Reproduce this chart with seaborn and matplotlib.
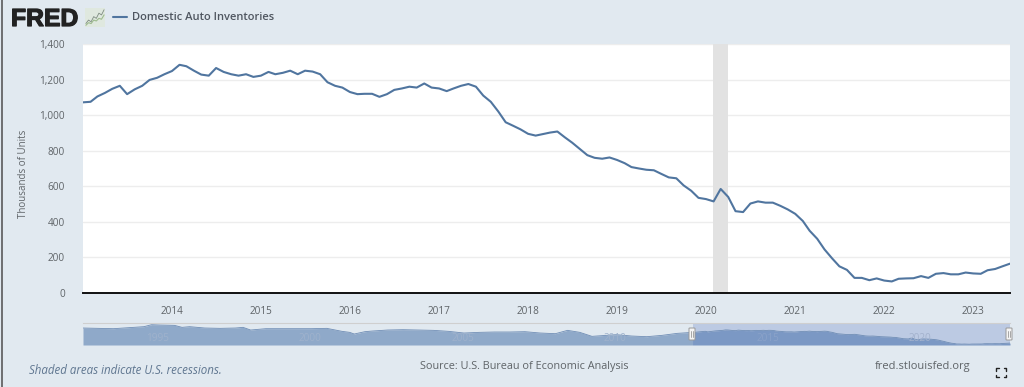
import matplotlib
matplotlib.use("Agg")
import matplotlib.pyplot as plt
import matplotlib.patheffects as pe
from matplotlib.patches import FancyBboxPatch
from matplotlib.lines import Line2D
import numpy as np
import pandas as pd
import seaborn as sns

# ---- data -------------------------------------------------------------
start_month = "2013-01-01"
inventories = [
    1072, 1075, 1105, 1125, 1148, 1165, 1118, 1145, 1165, 1198, 1210, 1230,
    1248, 1283, 1275, 1250, 1228, 1222, 1265, 1243, 1230, 1222, 1230, 1215,
    1222, 1243, 1230, 1238, 1250, 1230, 1250, 1245, 1230, 1185, 1165, 1155,
    1130, 1118, 1120, 1120, 1103, 1118, 1142, 1150, 1160, 1155, 1178, 1155,
    1150, 1135, 1150, 1165, 1175, 1160, 1110, 1075, 1020, 960, 940, 920,
    895, 885, 893, 902, 908, 875, 845, 810, 775, 760, 755, 762,
    748, 730, 708, 700, 693, 690, 670, 650, 645, 605, 575, 535,
    528, 515, 585, 540, 460, 455, 503, 515, 508, 508, 490, 470,
    445, 405, 350, 305, 245, 195, 150, 130, 85, 85, 72, 82,
    70, 65, 80, 82, 83, 95, 85, 108, 112, 105, 105, 115,
    110, 108, 128, 135, 150, 165,
]
history_years = [
    1993, 1993.5, 1994, 1994.5, 1995, 1995.25, 1995.5, 1996, 1996.25, 1996.5,
    1997, 1997.5, 1998, 1998.25, 1998.5, 1999, 1999.5, 2000, 2000.5, 2001,
    2001.5, 2001.75, 2001.9, 2002.25, 2002.5, 2003, 2003.5, 2004, 2004.5, 2005,
    2005.5, 2006, 2006.5, 2007, 2007.5, 2008, 2008.5, 2008.9, 2009.3, 2009.7,
    2010, 2010.5, 2011, 2011.5, 2012, 2012.5,
]
history_values = [
    1443, 1415, 1387, 1472, 1557, 1726, 1698, 1670, 1500, 1557,
    1443, 1415, 1443, 1500, 1274, 1387, 1387, 1387, 1387, 1415,
    1160, 1075, 934, 1132, 1189, 1274, 1302, 1274, 1245, 1160,
    1019, 1075, 1104, 1104, 1132, 1019, 962, 1245, 1075, 736,
    792, 877, 764, 707, 820, 990,
]
y_ticks = [0, 200, 400, 600, 800, 1000, 1200, 1400]
x_years = list(range(2014, 2024))
nav_years = [1995, 2000, 2005, 2010, 2015, 2020]
recession = ("2020-01-28", "2020-03-30")

# ---- colours ----------------------------------------------------------
BG = "#e1e9f0"
LINE = "#50759f"
TXT = "#5f6468"

sns.set_theme(style="white")
plt.rcParams["font.family"] = ["Open Sans", "DejaVu Sans"]

W, H = 1024, 387
fig = plt.figure(figsize=(W / 100, H / 100), dpi=100, facecolor=BG)

def box(x0, y0, x1, y1):
    return [x0 / W, 1 - y1 / H, (x1 - x0) / W, (y1 - y0) / H]

# ---- main chart -------------------------------------------------------
dates = pd.date_range(start_month, periods=len(inventories), freq="MS")
df = pd.DataFrame({"date": dates, "value": inventories})

ax = fig.add_axes(box(83, 44, 1010, 293))
ax.set_facecolor("white")
ax.axvspan(pd.Timestamp(recession[0]), pd.Timestamp(recession[1]),
           color="#e2e2e2", lw=0, zorder=1)
sns.lineplot(data=df, x="date", y="value", ax=ax, color=LINE, lw=1.5, zorder=3,
             errorbar=None)
ax.set_xlim(dates[0], dates[-1])
ax.set_ylim(0, 1400)
ax.set_yticks(y_ticks)
ax.set_yticklabels([f"{v:,}" for v in y_ticks])
ax.set_xticks([pd.Timestamp(f"{y}-01-01") for y in x_years])
ax.set_xticklabels([str(y) for y in x_years])
ax.grid(axis="y", color="#ededed", lw=1, zorder=0)
ax.grid(axis="x", visible=False)
for s in ("top", "left", "right"):
    ax.spines[s].set_visible(False)
ax.spines["bottom"].set_color("#111111")
ax.spines["bottom"].set_linewidth(1.4)
ax.tick_params(axis="y", length=0, pad=13, labelsize=7.2, labelcolor=TXT)
ax.tick_params(axis="x", length=4, width=0.8, color="#d4dbe2", pad=5,
               labelsize=7.2, labelcolor=TXT)
ax.set_xlabel("")
ax.set_ylabel("Thousands of Units", fontsize=7.0, color=TXT)
ax.yaxis.set_label_coords((29 - 83) / 927, 0.478)

# ---- navigator --------------------------------------------------------
nav_x = list(history_years) + [2013 + i / 12 for i in range(len(inventories))]
nav_y = list(history_values) + list(inventories)
nav_df = pd.DataFrame({"year": nav_x, "value": nav_y})
sel_start = 2013.0
end_year = nav_x[-1]

nav = fig.add_axes(box(83, 323, 1010, 345))
nav.set_facecolor(BG)
nav.axvspan(sel_start, end_year, color="#bccae3", lw=0, zorder=0)
left = nav_df[nav_df.year <= sel_start]
right = nav_df[nav_df.year >= sel_start]
nav.fill_between(left.year, left.value, color="#8fa9c9", lw=0, zorder=1)
nav.fill_between(right.year, right.value, color="#7b98c4", lw=0, zorder=1)
sns.lineplot(data=nav_df, x="year", y="value", ax=nav, color="#6f8db5", lw=0.6,
             zorder=2, errorbar=None)
nav.set_xlim(1993, end_year)
nav.set_ylim(0, 1870)
nav.set_xlabel("")
nav.set_ylabel("")
nav.set_xticks([])
nav.set_yticks([])
for s in ("left", "right", "bottom"):
    nav.spines[s].set_visible(False)
nav.spines["top"].set_color("#cfcfcf")
nav.spines["top"].set_linewidth(0.8)
nav_label_colors = {1995: "#9fb2cc", 2000: "#9fb2cc", 2005: "#9fb2cc",
                    2010: "#9fb2cc", 2015: "#8aa2c9", 2020: "#a3b2cd"}
for y in nav_years:
    nav.text(y + 14 / 30.4, 0.30, str(y), color=nav_label_colors[y], fontsize=7.2,
             ha="center", va="center", transform=nav.get_xaxis_transform(), zorder=3)

# handles of the range selector
for px in (692, 1009):
    fig.patches.append(FancyBboxPatch(
        ((px - 3) / W, 1 - 340 / H), 6 / W, 12 / H,
        boxstyle="round,pad=0,rounding_size=0.001", transform=fig.transFigure,
        fc="#f4f4f4", ec="#9a9a9a", lw=0.7, zorder=6))
    fig.add_artist(Line2D([(px - 0.8) / W] * 2, [1 - 337 / H, 1 - 331 / H],
                          color="#9a9a9a", lw=0.6, zorder=7))
    fig.add_artist(Line2D([(px + 0.8) / W] * 2, [1 - 337 / H, 1 - 331 / H],
                          color="#9a9a9a", lw=0.6, zorder=7))

# ---- header -----------------------------------------------------------
fig.text(11 / W, 1 - 26 / H, "FRED", family=["Liberation Sans"], weight="bold",
         fontsize=17.8, color="#222222", va="baseline", ha="left",
         path_effects=[pe.withStroke(linewidth=0.9, foreground="#222222")])
ic = fig.add_axes(box(85, 8, 105, 27))
ic.set_facecolor("#dfe8df")
icon_a = [1, 3, 2, 5, 4, 7, 6, 9]
icon_b = [0, 1.5, 1, 3, 2.5, 4, 3.5, 6]
sns.lineplot(x=range(8), y=icon_a, ax=ic, color="#7d8b80", lw=0.6, errorbar=None)
sns.lineplot(x=range(8), y=icon_b, ax=ic, color="#9dbb8e", lw=0.8, errorbar=None)
ic.set_ylim(-1, 10)
ic.set_xlabel("")
ic.set_ylabel("")
ic.set_xticks([])
ic.set_yticks([])
for s in ic.spines.values():
    s.set_visible(False)

fig.add_artist(Line2D([113 / W, 127 / W], [1 - 17 / H] * 2, color=LINE, lw=1.5))
fig.text(132 / W, 1 - 17.5 / H, "Domestic Auto Inventories", fontsize=8.0,
         weight="semibold", color="#4f5660", va="center", ha="left")

# ---- footer -----------------------------------------------------------
fig.text(29 / W, 1 - 371 / H, "Shaded areas indicate U.S. recessions.", fontsize=8.3,
         style="italic", color="#5f7690", va="center", ha="left")
fig.text(524 / W, 1 - 367 / H, "Source: U.S. Bureau of Economic Analysis", fontsize=7.8,
         color=TXT, va="center", ha="center")
fig.text(970.5 / W, 1 - 367 / H, "fred.stlouisfed.org", fontsize=8.0,
         color=TXT, va="center", ha="right")

# fullscreen icon
cx0, cx1, cy0, cy1, a = 996, 1006, 368, 377, 2.5
for xc, yc, dx, dy in ((cx0, cy0, 1, 1), (cx1, cy0, -1, 1), (cx0, cy1, 1, -1), (cx1, cy1, -1, -1)):
    fig.add_artist(Line2D([(xc + dx * a) / W, xc / W, xc / W],
                          [1 - yc / H, 1 - yc / H, 1 - (yc + dy * a) / H],
                          color="#222222", lw=1.0))

# left window border
fig.add_artist(Line2D([1.5 / W] * 2, [0, 1], color="#5a5a5a", lw=1.2))

fig.savefig("out.png", dpi=100, facecolor=BG)
